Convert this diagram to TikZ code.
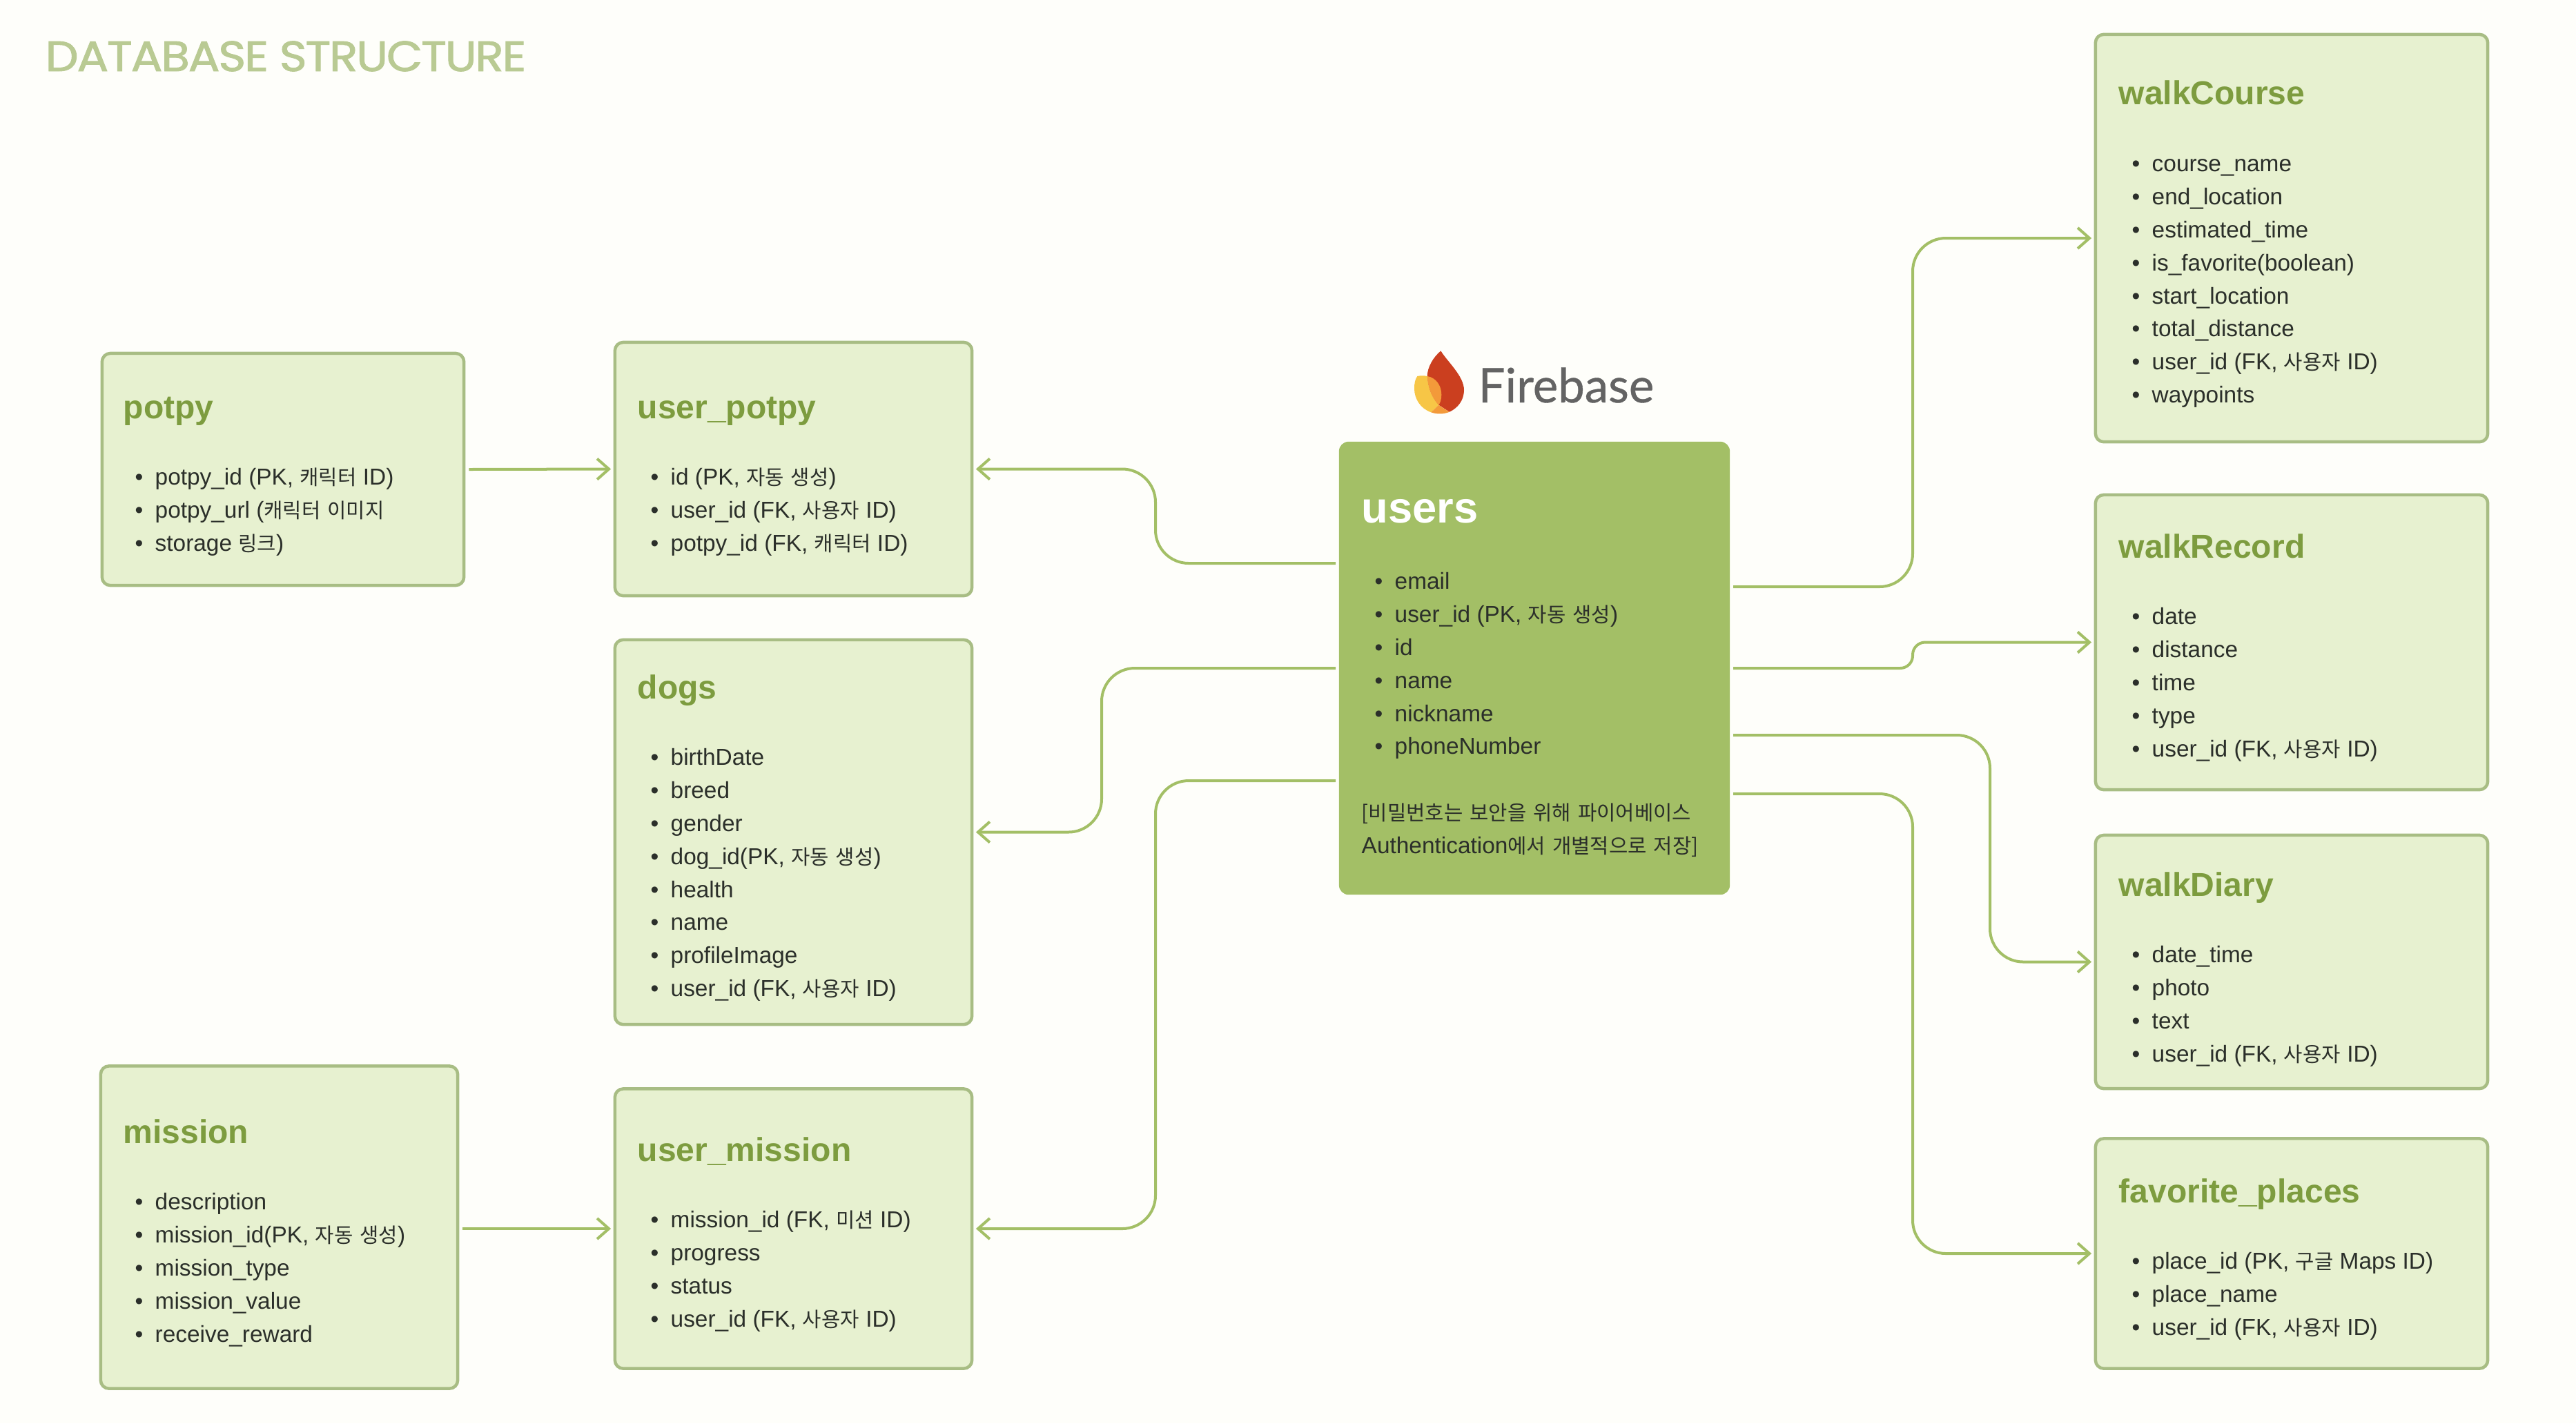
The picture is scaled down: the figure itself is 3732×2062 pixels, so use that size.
\documentclass[tikz,border=0pt]{standalone}
\usepackage{fontspec}
\usetikzlibrary{arrows.meta}
\setmainfont{Liberation Sans}
\newfontfamily\krfont[WordSpace=1.5]{Noto Sans CJK KR}
\newfontfamily\headfont[LetterSpace=-3,FakeBold=1.5]{Poppins}
\newfontfamily\logofont[FakeBold=0.6]{Lato}
\newcommand{\kr}[1]{{\krfont\fontsize{8.45}{13.63}\selectfont #1}}
\newcommand{\fld}[1]{\rule[-0.3\baselineskip]{0pt}{\baselineskip}\makebox[0.24cm][l]{\hspace{-0.05cm}\textbullet}#1}
\definecolor{pagebg}{HTML}{FEFEFA}
\definecolor{boxfill}{HTML}{E7F1D0}
\definecolor{boxline}{HTML}{A8BD84}
\definecolor{linkcol}{HTML}{A3BF66}
\definecolor{titlecol}{HTML}{7D9C3F}
\definecolor{textcol}{HTML}{2B2F2A}
\definecolor{headcol}{HTML}{B9CA93}
\definecolor{logogray}{HTML}{636363}
\definecolor{flamered}{HTML}{CB3F1F}
\definecolor{flameyellow}{HTML}{F7C646}
\definecolor{flameorange}{HTML}{F39A3A}
\tikzset{
	tablebox/.style={draw=boxline, line width=0.045cm, fill=boxfill, rounded corners=0.12cm, inner sep=0},
	tabletitle/.style={anchor=base west, inner sep=0, text=titlecol, font=\fontsize{13.66}{16}\bfseries\selectfont},
	tablebody/.style={anchor=north west, inner sep=0, align=left, text=textcol, font=\fontsize{9.5}{13.63}\selectfont},
	link/.style={draw=linkcol, line width=0.04cm, rounded corners=0.48cm, shorten <=0.05cm, shorten >=0.035cm, -{Straight Barb[length=0.17cm,width=0.3cm]}},
}
\begin{document}
\begin{tikzpicture}[x=0.01cm, y=-0.01cm]
	\useasboundingbox[fill=pagebg] (0,0) rectangle (3732,2062);

	\node[anchor=base west, inner sep=0, text=headcol, font=\headfont\fontsize{17.5}{20}\selectfont] (heading) at (65,103) {\scalebox{1.10}[1]{DATABASE STRUCTURE}};

	% tables, left column
	\node[tablebox, minimum width=5.24cm, minimum height=3.36cm] (potpy) at (410,680) {};
	\node[tabletitle] (potpyT) at (178,606) {potpy};
	\node[tablebody] (potpyB) at (200,668) {\fld{potpy\_id (PK, \kr{캐릭터} ID)}\\\fld{potpy\_url (\kr{캐릭터 이미지}}\\\fld{}storage \kr{링크})};

	\node[tablebox, minimum width=5.17cm, minimum height=4.67cm] (mission) at (404.5,1778) {};
	\node[tabletitle] (missionT) at (178,1656) {mission};
	\node[tablebody] (missionB) at (200,1718) {\fld{description}\\\fld{mission\_id(PK, \kr{자동 생성})}\\\fld{mission\_type}\\\fld{mission\_value}\\\fld{receive\_reward}};

	% tables, second column
	\node[tablebox, minimum width=5.17cm, minimum height=3.67cm] (userPotpy) at (1149.5,679.5) {};
	\node[tabletitle] (userPotpyT) at (923,606) {user\_potpy};
	\node[tablebody] (userPotpyB) at (947,668) {\fld{id (PK, \kr{자동 생성})}\\\fld{user\_id (FK, \kr{사용자} ID)}\\\fld{potpy\_id (FK, \kr{캐릭터} ID)}};

	\node[tablebox, minimum width=5.17cm, minimum height=5.57cm] (dogs) at (1149.5,1205.5) {};
	\node[tabletitle] (dogsT) at (923,1012) {dogs};
	\node[tablebody] (dogsB) at (947,1074) {\fld{birthDate}\\\fld{breed}\\\fld{gender}\\\fld{dog\_id(PK, \kr{자동 생성})}\\\fld{health}\\\fld{name}\\\fld{profileImage}\\\fld{user\_id (FK, \kr{사용자} ID)}};

	\node[tablebox, minimum width=5.17cm, minimum height=4.05cm] (userMission) at (1149.5,1780) {};
	\node[tabletitle] (userMissionT) at (923,1682) {user\_mission};
	\node[tablebody] (userMissionB) at (947,1744) {\fld{mission\_id (FK, \kr{미션} ID)}\\\fld{progress}\\\fld{status}\\\fld{user\_id (FK, \kr{사용자} ID)}};

	% users
	\node[fill=linkcol, rounded corners=0.14cm, minimum width=5.66cm, minimum height=6.56cm, inner sep=0] (users) at (2223,968) {};
	\node[anchor=base west, inner sep=0, text=white, font=\fontsize{18}{20}\bfseries\selectfont] (usersT) at (1972,757) {users};
	\node[tablebody] (usersB) at (1996,819) {\fld{email}\\\fld{user\_id (PK, \kr{자동 생성})}\\\fld{id}\\\fld{name}\\\fld{nickname}\\\fld{phoneNumber}};
	\node[tablebody, anchor=north west] (usersN) at (1972,1154) {\rule[-0.3\baselineskip]{0pt}{\baselineskip}\kr{[비밀번호는 보안을 위해 파이어베이스}\\\rule[-0.3\baselineskip]{0pt}{\baselineskip}Authentication\kr{에서 개별적으로 저장]}};

	% firebase logo
	\fill[flamered] (2087.3,508.3) .. controls (2097,524) and (2121,545) .. (2121,565) .. controls (2121,580) and (2112,591) .. (2100,596.7) -- (2084.3,586.7) .. controls (2076,578) and (2069,565) .. (2067.7,545) .. controls (2068,532) and (2076,518) .. (2087.3,508.3) -- cycle;
	\fill[flameyellow] (2053.3,545) .. controls (2058,544) and (2063,544) .. (2067.7,545) .. controls (2069,565) and (2076,578) .. (2084.3,586.7) -- (2073.3,597.3) .. controls (2058,592) and (2049,578) .. (2049,563) .. controls (2049,555) and (2050,550) .. (2053.3,545) -- cycle;
	\fill[flameorange] (2067.7,545) .. controls (2080,547) and (2088.3,558) .. (2088.3,571.7) .. controls (2088.3,578) and (2087,583) .. (2084.3,586.7) .. controls (2076,578) and (2069,565) .. (2067.7,545) -- cycle;
	\fill[flameorange] (2073.3,597.3) -- (2084.3,586.7) .. controls (2089,590) and (2095,594) .. (2100,596.7) .. controls (2092,600) and (2082,600.5) .. (2073.3,597.3) -- cycle;
	\node[anchor=base west, inner sep=0, text=logogray, font=\logofont\fontsize{19.6}{22}\selectfont] (firebase) at (2141,583) {Firebase};

	% tables, right column
	\node[tablebox, minimum width=5.68cm, minimum height=5.90cm] (walkCourse) at (3320,345) {};
	\node[tabletitle] (walkCourseT) at (3069,151) {walkCourse};
	\node[tablebody] (walkCourseB) at (3093,214) {\fld{course\_name}\\\fld{end\_location}\\\fld{estimated\_time}\\\fld{is\_favorite(boolean)}\\\fld{start\_location}\\\fld{total\_distance}\\\fld{user\_id (FK, \kr{사용자} ID)}\\\fld{waypoints}};

	\node[tablebox, minimum width=5.68cm, minimum height=4.27cm] (walkRecord) at (3320,930.5) {};
	\node[tabletitle] (walkRecordT) at (3069,808) {walkRecord};
	\node[tablebody] (walkRecordB) at (3093,870) {\fld{date}\\\fld{distance}\\\fld{time}\\\fld{type}\\\fld{user\_id (FK, \kr{사용자} ID)}};

	\node[tablebox, minimum width=5.68cm, minimum height=3.67cm] (walkDiary) at (3320,1393.5) {};
	\node[tabletitle] (walkDiaryT) at (3069,1298) {walkDiary};
	\node[tablebody] (walkDiaryB) at (3093,1360) {\fld{date\_time}\\\fld{photo}\\\fld{text}\\\fld{user\_id (FK, \kr{사용자} ID)}};

	\node[tablebox, minimum width=5.68cm, minimum height=3.33cm] (favoritePlaces) at (3320,1816) {};
	\node[tabletitle] (favoritePlacesT) at (3069,1742) {favorite\_places};
	\node[tablebody] (favoritePlacesB) at (3093,1804) {\fld{place\_id (PK, \kr{구글} Maps ID)}\\\fld{place\_name}\\\fld{user\_id (FK, \kr{사용자} ID)}};

	% ports on users and vertical runs
	\coordinate (usersW1) at (1940,816);
	\coordinate (usersW2) at (1940,968);
	\coordinate (usersW3) at (1940,1131);
	\coordinate (usersE1) at (2506,850);
	\coordinate (usersE2) at (2506,968);
	\coordinate (usersE3) at (2506,1065);
	\coordinate (usersE4) at (2506,1150);
	\coordinate (runA) at (1674,0);
	\coordinate (runB) at (1596,0);
	\coordinate (runC) at (2771,0);
	\coordinate (runD) at (2883,0);

	\draw[link] (potpy.east) -- (userPotpy.west);
	\draw[link] (mission.east |- userMission.west) -- (userMission.west);
	\draw[link] (usersW1) -| (runA |- userPotpy.east) -- (userPotpy.east);
	\draw[link] (usersW2) -| (runB |- dogs.east) -- (dogs.east);
	\draw[link] (usersW3) -| (runA |- userMission.east) -- (userMission.east);
	\draw[link] (usersE1) -| (runC |- walkCourse.west) -- (walkCourse.west);
	\draw[link, rounded corners=0.18cm] (usersE2) -| (runC |- walkRecord.west) -- (walkRecord.west);
	\draw[link] (usersE3) -| (runD |- walkDiary.west) -- (walkDiary.west);
	\draw[link] (usersE4) -| (runC |- favoritePlaces.west) -- (favoritePlaces.west);
\end{tikzpicture}
\end{document}
